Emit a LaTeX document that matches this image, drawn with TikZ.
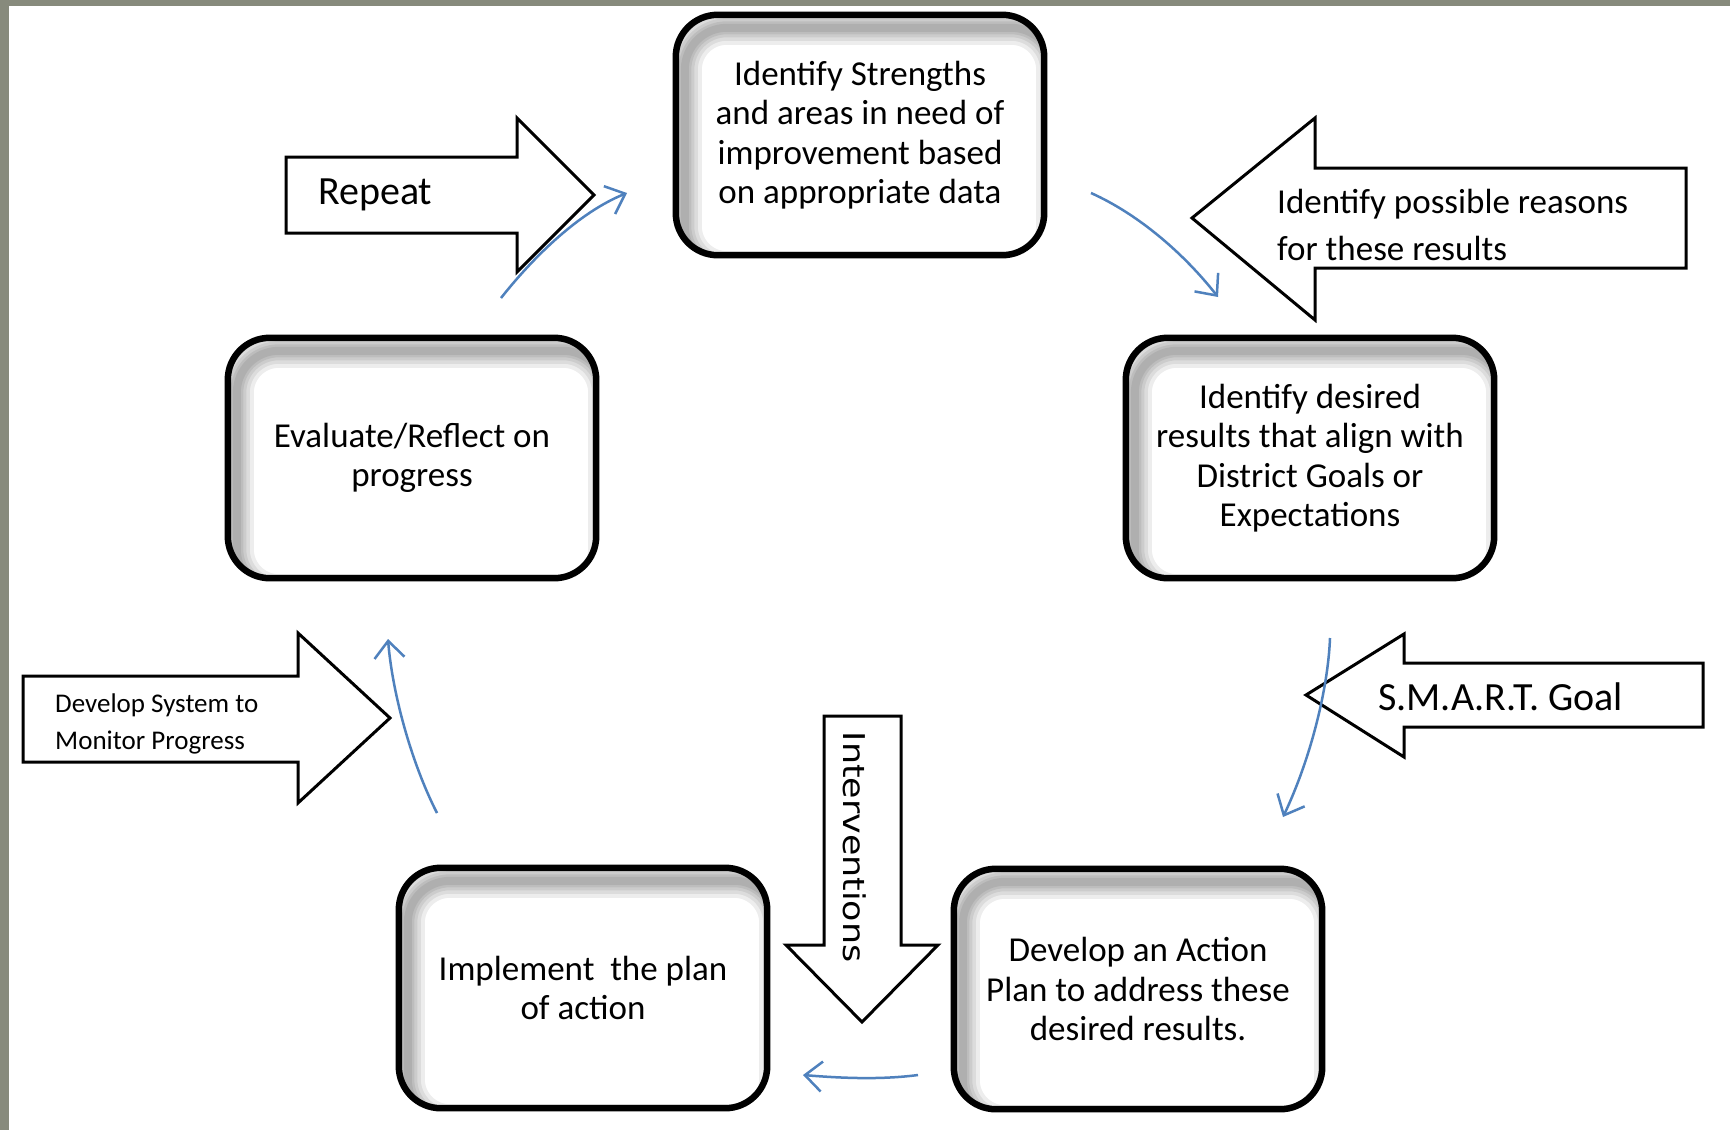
\documentclass[tikz,border=0pt]{standalone}
\usepackage{fontspec}
\setmainfont{Carlito}
\newfontfamily\intfont{DejaVu Sans}
\usetikzlibrary{arrows.meta}
\definecolor{flowblue}{HTML}{4F81BD}
\definecolor{framegray}{HTML}{878A7C}
\tikzset{
  boxnode/.style={rectangle, minimum width=368pt, minimum height=240pt, inner sep=0pt, align=center, font=\fontsize{35}{39.5}\selectfont},
  boxline/.style={draw=black, line width=6.5pt, rounded corners=42pt},
  boxshadow/.style={draw=black, opacity=0.07, rounded corners=42pt},
  blockarrow/.style={draw=black, line width=3pt, fill=white, line join=miter},
  flow/.style={draw=flowblue, line width=2.5pt, -{Straight Barb[length=17pt,width=30pt]}},
  lbl/.style={inner sep=0pt, anchor=west, align=left},
}
\newcommand\cyclebox[3]{%
  \node[boxnode, fill=white] (#1) at (#2) {};
  \begin{scope}
    \clip[rounded corners=42pt] (#1.south west) rectangle (#1.north east);
    \foreach \w in {34,26,19,13,8}{
      \draw[boxshadow, line width=\w pt] ([shift={(9,13)}]#1.south west) rectangle ([shift={(9,13)}]#1.north east);
    }
  \end{scope}
  \node[boxnode] (#1-text) at (#1.center) {#3};
  \draw[boxline] (#1.south west) rectangle (#1.north east);
}
\begin{document}
\begin{tikzpicture}[x=1pt,y=-1pt]
\useasboundingbox (0,0) rectangle (1730,1130);
\fill[framegray] (0,0) rectangle (1730,1130);
\fill[white] (9,6) rectangle (1730,1130);

% cycle boxes
\cyclebox{strengths}{860,135}{Identify Strengths\\and areas in need of\\improvement based\\on appropriate data}
\cyclebox{desired}{1310,458}{Identify desired\\results that align with\\District Goals or\\Expectations}
\cyclebox{plan}{1138,989}{Develop an Action\\Plan to address these\\desired results.}
\cyclebox{implement}{583,988}{Implement\ \ the plan\\of action}
\cyclebox{evaluate}{412,458}{Evaluate/Reflect on\\progress}

% block arrows
\draw[blockarrow] (286,157) -- (517,157) -- (517,118) -- (594,195) -- (517,272) -- (517,233) -- (286,233) -- cycle;
\node[lbl, font=\fontsize{40}{48}\selectfont] (repeat) at (318,195) {Repeat};

\draw[blockarrow] (1686,168) -- (1315,168) -- (1315,118) -- (1192,218) -- (1315,320) -- (1315,268) -- (1686,268) -- cycle;
\node[lbl, font=\fontsize{35}{47}\selectfont] (reasons) at (1277,225) {Identify possible reasons\\for these results};

\draw[blockarrow] (1703,663) -- (1404,663) -- (1404,634) -- (1306,695) -- (1404,757) -- (1404,727) -- (1703,727) -- cycle;
\node[lbl, font=\fontsize{40}{48}\selectfont] (smart) at (1378,697) {S.M.A.R.T. Goal};

\draw[blockarrow] (23,676) -- (298,676) -- (298,633) -- (390,718) -- (298,803) -- (298,762) -- (23,762) -- cycle;
\node[lbl, font=\fontsize{27}{37}\selectfont] (monitor) at (55,724) {Develop System to\\Monitor Progress};

\draw[blockarrow] (824,716) -- (901,716) -- (901,945) -- (938,945) -- (862,1022) -- (786,945) -- (824,945) -- cycle;
\node[inner sep=0pt, rotate=-90, font=\intfont\fontsize{30}{36}\selectfont] (interv) at (855,847) {\scalebox{1.16}[1]{Interventions}};

% blue cycle connectors
\coordinate (e1s) at (501,298); \coordinate (e1e) at (627,193);
\coordinate (e2s) at (1091,193); \coordinate (e2e) at (1218,297);
\coordinate (e3s) at (1330,638); \coordinate (e3e) at (1283,817);
\coordinate (e4s) at (918,1075); \coordinate (e4e) at (803,1075);
\coordinate (e5s) at (437,813); \coordinate (e5e) at (388,639);
\draw[flow] (e1s) .. controls (535,255) and (580,212) .. (e1e);
\draw[flow] (e2s) .. controls (1140,215) and (1185,255) .. (e2e);
\draw[flow] (e3s) .. controls (1328,690) and (1310,760) .. (e3e);
\draw[flow] (e4s) .. controls (880,1080) and (840,1078) .. (e4e);
\draw[flow] (e5s) .. controls (410,760) and (392,690) .. (e5e);
\end{tikzpicture}
\end{document}
